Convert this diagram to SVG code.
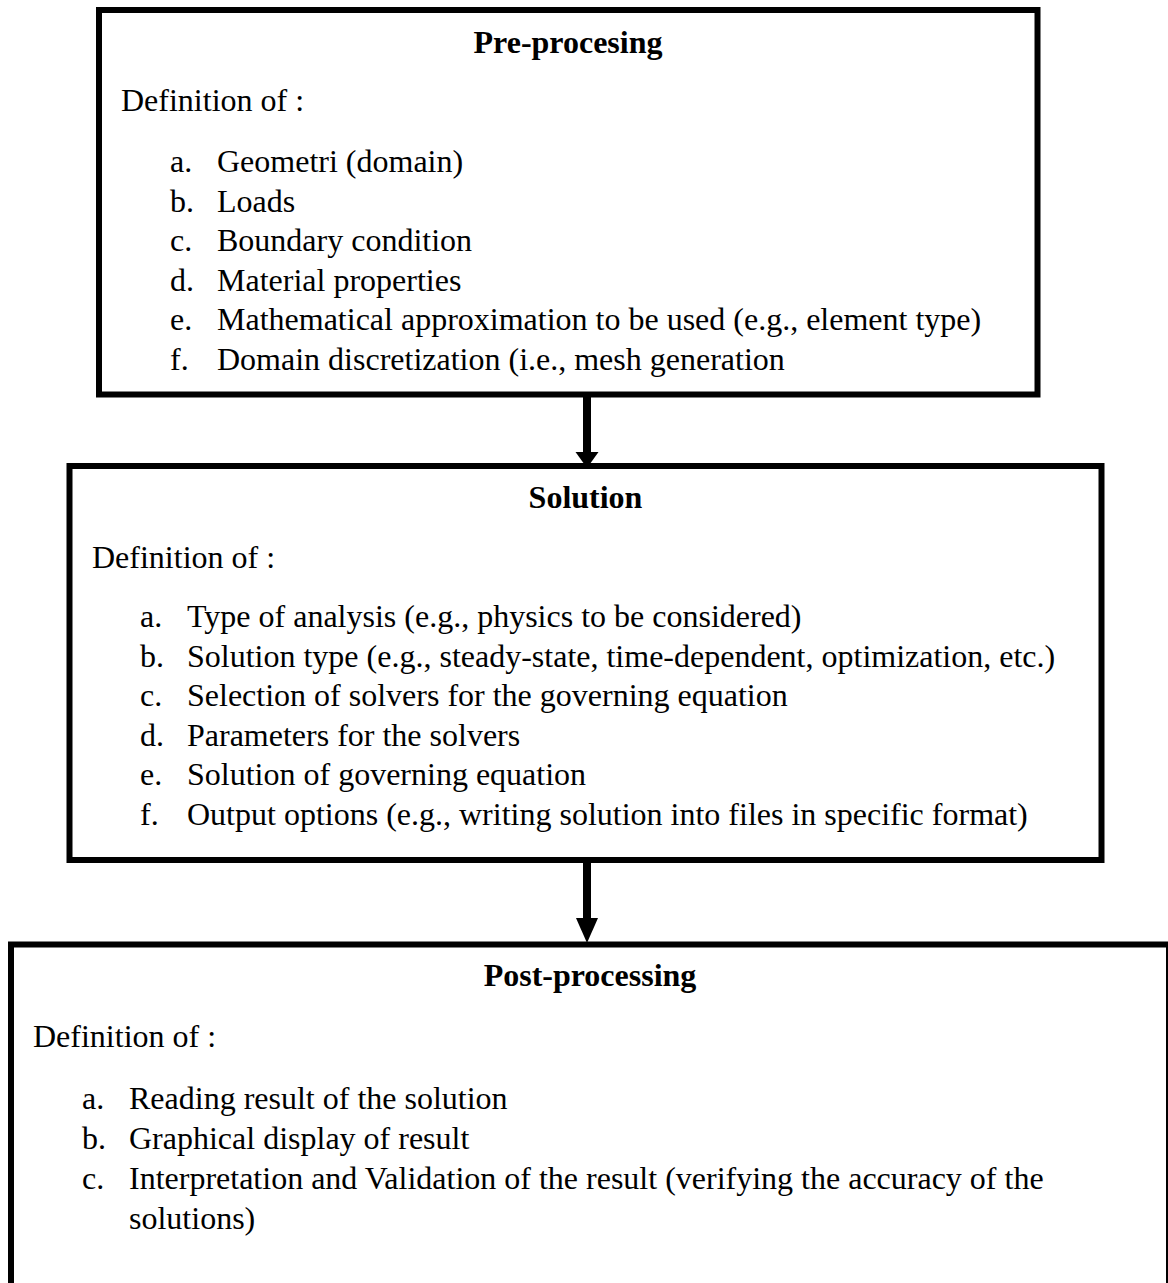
<svg xmlns="http://www.w3.org/2000/svg" width="1168" height="1283" viewBox="0 0 1168 1283">
<style>
.box{fill:#fff;stroke:#000;stroke-width:6}
text{font-family:"Liberation Serif","Times New Roman",serif;font-size:32px;fill:#000}
.t{font-weight:bold;text-anchor:middle}
.sh{stroke:#000;stroke-width:8;fill:none}
.hd{fill:#000}
</style>
<rect width="1168" height="1283" fill="#fff"/>
<g id="pre">
<rect class="box" x="99" y="10" width="938.5" height="384.5"/>
<text class="t" x="568" y="53">Pre-procesing</text>
<text x="121" y="111">Definition of :</text>
<text x="170" y="172">a.</text><text x="217" y="172">Geometri (domain)</text>
<text x="170" y="211.6">b.</text><text x="217" y="211.6">Loads</text>
<text x="170" y="251.2">c.</text><text x="217" y="251.2">Boundary condition</text>
<text x="170" y="290.8">d.</text><text x="217" y="290.8">Material properties</text>
<text x="170" y="330.4">e.</text><text x="217" y="330.4">Mathematical approximation to be used (e.g., element type)</text>
<text x="170" y="370">f.</text><text x="217" y="370">Domain discretization (i.e., mesh generation</text>
</g>
<g id="connectors">
<line class="sh" x1="587" y1="397" x2="587" y2="455"/>
<polygon class="hd" points="575.5,452 598.5,452 587,468"/>
<line class="sh" x1="587" y1="863" x2="587" y2="920"/>
<polygon class="hd" points="576,918 598,918 587,943"/>
</g>
<g id="solution">
<rect class="box" x="69.5" y="466" width="1032" height="394"/>
<text class="t" x="585.5" y="508">Solution</text>
<text x="92" y="568">Definition of :</text>
<text x="140" y="627">a.</text><text x="187" y="627">Type of analysis (e.g., physics to be considered)</text>
<text x="140" y="666.6">b.</text><text x="187" y="666.6">Solution type (e.g., steady-state, time-dependent, optimization, etc.)</text>
<text x="140" y="706.2">c.</text><text x="187" y="706.2">Selection of solvers for the governing equation</text>
<text x="140" y="745.8">d.</text><text x="187" y="745.8">Parameters for the solvers</text>
<text x="140" y="785.4">e.</text><text x="187" y="785.4">Solution of governing equation</text>
<text x="140" y="825">f.</text><text x="187" y="825">Output options (e.g., writing solution into files in specific format)</text>
</g>
<g id="post">
<rect class="box" x="11" y="944.5" width="1158" height="360"/>
<text class="t" x="590" y="986">Post-processing</text>
<text x="33" y="1046.5">Definition of :</text>
<text x="82" y="1109">a.</text><text x="129" y="1109">Reading result of the solution</text>
<text x="82" y="1149">b.</text><text x="129" y="1149">Graphical display of result</text>
<text x="82" y="1189">c.</text><text x="129" y="1189">Interpretation and Validation of the result (verifying the accuracy of the</text>
<text x="129" y="1229">solutions)</text>
</g>
</svg>
